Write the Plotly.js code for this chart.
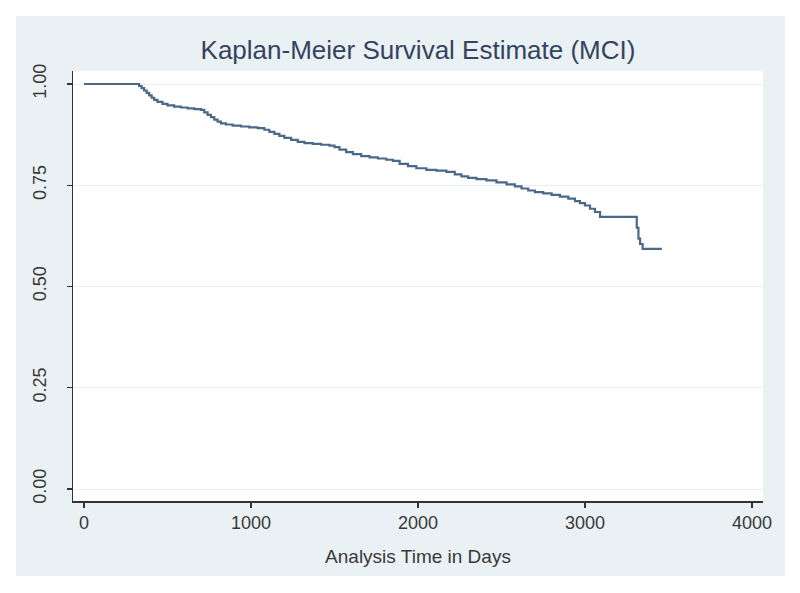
<!DOCTYPE html>
<html>
<head>
<meta charset="utf-8">
<script src="https://cdn.plot.ly/plotly-3.0.1.min.js"></script>
<style>html,body{margin:0;padding:0;background:#fff;}#chart{width:800px;height:593px;}</style>
</head>
<body>
<div id="chart"></div>
<script>
// Kaplan-Meier survival estimate (MCI)
var timeDays = [0, 330, 345, 360, 375, 390, 405, 420, 440, 470,
  500, 540, 580, 620, 660, 700, 720, 740, 760, 780,
  800, 820, 850, 890, 940, 990, 1040, 1080, 1110, 1140,
  1170, 1200, 1240, 1280, 1320, 1370, 1420, 1470, 1500, 1530,
  1570, 1610, 1660, 1710, 1760, 1810, 1850, 1890, 1940, 1990,
  2050, 2110, 2170, 2220, 2260, 2300, 2350, 2410, 2470, 2530,
  2580, 2620, 2660, 2700, 2750, 2800, 2850, 2900, 2940, 2970,
  3000, 3030, 3060, 3090, 3310, 3320, 3330, 3345, 3460];
var survival = [1.000, 0.995, 0.990, 0.984, 0.978, 0.972, 0.966, 0.961, 0.956, 0.951,
  0.947, 0.944, 0.942, 0.940, 0.938, 0.936, 0.930, 0.924, 0.918, 0.912,
  0.907, 0.903, 0.900, 0.897, 0.895, 0.893, 0.891, 0.887, 0.882, 0.877,
  0.872, 0.867, 0.862, 0.857, 0.854, 0.852, 0.850, 0.848, 0.844, 0.838,
  0.832, 0.827, 0.822, 0.819, 0.816, 0.813, 0.810, 0.803, 0.797, 0.792,
  0.788, 0.786, 0.783, 0.777, 0.772, 0.768, 0.765, 0.762, 0.757, 0.752,
  0.747, 0.742, 0.737, 0.733, 0.730, 0.726, 0.722, 0.717, 0.711, 0.706,
  0.700, 0.692, 0.684, 0.672, 0.645, 0.618, 0.605, 0.593, 0.593];
var yTickVals = [0, 0.25, 0.5, 0.75, 1];
var yTickText = ["0.00", "0.25", "0.50", "0.75", "1.00"];
var xTickVals = [0, 1000, 2000, 3000, 4000];
var xTickText = ["0", "1000", "2000", "3000", "4000"];

var W = 800, H = 593;
var L = 73, R = 763, T = 71, B = 501;
var pw = R - L, ph = B - T;
function px(x) { return (x - L) / pw; }
function py(y) { return (B - y) / ph; }

var trace = {
  x: timeDays, y: survival, type: 'scatter', mode: 'lines',
  line: {shape: 'hv', color: '#4a6889', width: 2.2},
  hoverinfo: 'x+y'
};

var layout = {
  width: W, height: H,
  margin: {l: L, r: W - R, t: T, b: H - B, pad: 0},
  paper_bgcolor: '#ffffff',
  plot_bgcolor: 'rgba(0,0,0,0)',
  showlegend: false,
  font: {family: 'Liberation Sans, Arial, sans-serif', color: '#383838'},
  title: {
    text: 'Kaplan-Meier Survival Estimate (MCI)',
    font: {size: 26, color: '#34435e', family: 'Liberation Sans, Arial, sans-serif'},
    xref: 'paper', x: 0.5, xanchor: 'center',
    yref: 'container', y: 1 - 50 / H, yanchor: 'middle'
  },
  xaxis: {
    range: [-(84 - L) / 0.167, (R - 84) / 0.167],
    tickvals: xTickVals, ticktext: xTickText,
    showgrid: false, zeroline: false,
    showline: true, linecolor: '#333333', linewidth: 1.5,
    ticks: 'outside', ticklen: 5, tickwidth: 1.2, tickcolor: '#333333',
    tickfont: {size: 18, color: '#383838'},
    title: {text: 'Analysis Time in Days', font: {size: 19, color: '#383838'}, standoff: 17}
  },
  yaxis: {
    range: [-(B - 489) / 405, 1 + (84 - T) / 405],
    tickvals: yTickVals, ticktext: yTickText,
    tickangle: -90,
    ticklabelstandoff: 13,
    showgrid: true, gridcolor: '#e6eff2', gridwidth: 1,
    zeroline: false,
    showline: true, linecolor: '#333333', linewidth: 1.5,
    ticks: 'outside', ticklen: 5, tickwidth: 1.2, tickcolor: '#333333',
    tickfont: {size: 18, color: '#383838'}
  },
  shapes: [
    {type: 'rect', xref: 'paper', yref: 'paper', layer: 'below',
     x0: px(16), x1: px(785), y0: py(576), y1: py(16),
     fillcolor: '#eaf1f4', line: {width: 0}},
    {type: 'rect', xref: 'paper', yref: 'paper', layer: 'below',
     x0: px(L), x1: px(R), y0: py(B), y1: py(T),
     fillcolor: '#ffffff', line: {width: 0}}
  ]
};

Plotly.newPlot('chart', [trace], layout, {displayModeBar: false, staticPlot: true});
</script>
</body>
</html>
